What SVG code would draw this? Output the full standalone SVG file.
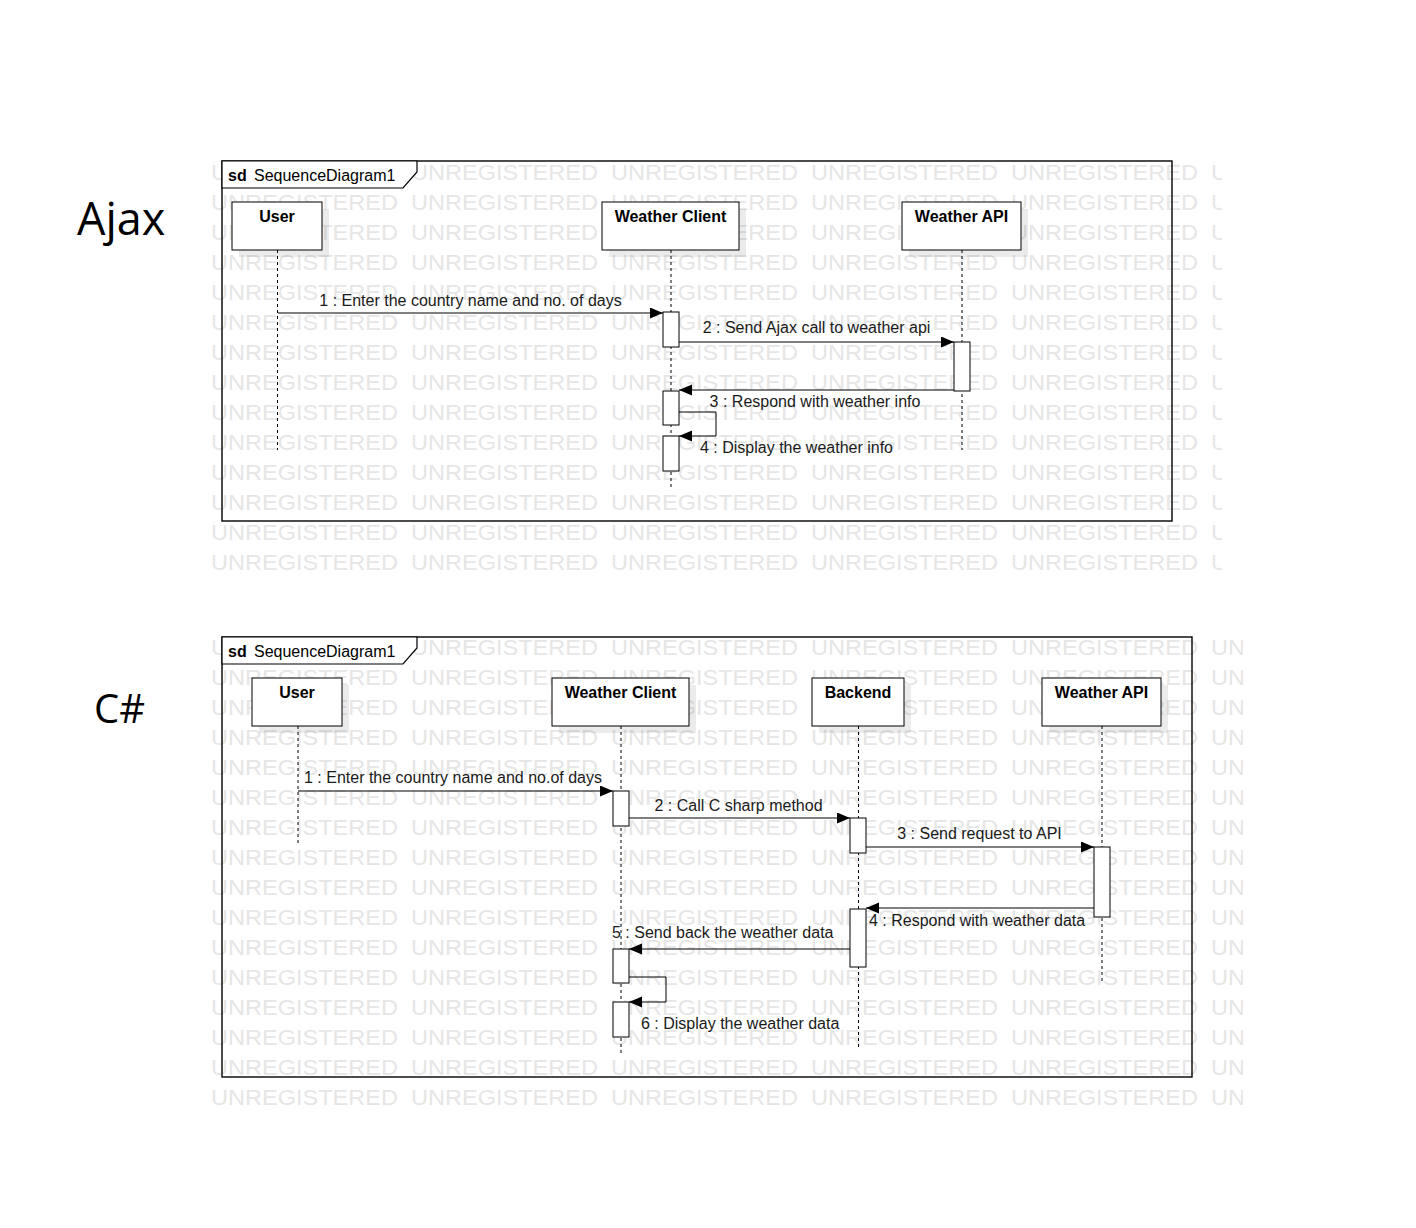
<svg xmlns="http://www.w3.org/2000/svg" xmlns:xlink="http://www.w3.org/1999/xlink" width="1416" height="1228" viewBox="0 0 1416 1228">
<style>
.wm{font-family:"Liberation Sans",Arial,sans-serif;font-size:22.5px;fill:#e6e6e6}
.frame{fill:none;stroke:#000;stroke-width:1.4}
.tab{fill:#fff;stroke:#000;stroke-width:1.2}
.node{fill:#fff;stroke:#000;stroke-width:1}
.shadow{fill:#000;fill-opacity:0.08}
.act{fill:#fff;stroke:#000;stroke-width:1}
.life{fill:none;stroke:#000;stroke-width:1;stroke-dasharray:3 3}
.msg{fill:none;stroke:#000;stroke-width:1;marker-end:url(#arr)}
.nl{font-family:"Liberation Sans",Arial,sans-serif;font-size:16px;font-weight:bold;fill:#000;text-anchor:middle}
.lbl{font-family:"Liberation Sans",Arial,sans-serif;font-size:16px;fill:#1a1a1a}
.mid{text-anchor:middle}
.hd{font-family:"Liberation Sans",Arial,sans-serif;font-size:16px;fill:#000}
.big{font-family:"Open Sans","Noto Sans",sans-serif;fill:#000}
</style>
<defs>
<marker id="arr" markerUnits="userSpaceOnUse" markerWidth="14" markerHeight="12" refX="13" refY="5.5" orient="auto">
<path d="M0,0 L13,5.5 L0,11 Z" fill="#000"/>
</marker>
<clipPath id="clipTop"><rect x="200" y="150" width="1022" height="440"/></clipPath>
<clipPath id="clipBot"><rect x="200" y="630" width="1043" height="490"/></clipPath>
<g id="wmrow">
<text class="wm" x="211" y="0" textLength="187" lengthAdjust="spacingAndGlyphs">UNREGISTERED</text>
<text class="wm" x="411" y="0" textLength="187" lengthAdjust="spacingAndGlyphs">UNREGISTERED</text>
<text class="wm" x="611" y="0" textLength="187" lengthAdjust="spacingAndGlyphs">UNREGISTERED</text>
<text class="wm" x="811" y="0" textLength="187" lengthAdjust="spacingAndGlyphs">UNREGISTERED</text>
<text class="wm" x="1011" y="0" textLength="187" lengthAdjust="spacingAndGlyphs">UNREGISTERED</text>
<text class="wm" x="1211" y="0" textLength="187" lengthAdjust="spacingAndGlyphs">UNREGISTERED</text>
</g>
</defs>
<rect x="0" y="0" width="1416" height="1228" fill="#fff"/>

<g id="watermark-top" clip-path="url(#clipTop)">
<use xlink:href="#wmrow" y="180"/><use xlink:href="#wmrow" y="210"/><use xlink:href="#wmrow" y="240"/><use xlink:href="#wmrow" y="270"/>
<use xlink:href="#wmrow" y="300"/><use xlink:href="#wmrow" y="330"/><use xlink:href="#wmrow" y="360"/><use xlink:href="#wmrow" y="390"/>
<use xlink:href="#wmrow" y="420"/><use xlink:href="#wmrow" y="450"/><use xlink:href="#wmrow" y="480"/><use xlink:href="#wmrow" y="510"/>
<use xlink:href="#wmrow" y="540"/><use xlink:href="#wmrow" y="570"/>
</g>
<g id="watermark-bottom" clip-path="url(#clipBot)">
<use xlink:href="#wmrow" y="655"/><use xlink:href="#wmrow" y="685"/><use xlink:href="#wmrow" y="715"/><use xlink:href="#wmrow" y="745"/>
<use xlink:href="#wmrow" y="775"/><use xlink:href="#wmrow" y="805"/><use xlink:href="#wmrow" y="835"/><use xlink:href="#wmrow" y="865"/>
<use xlink:href="#wmrow" y="895"/><use xlink:href="#wmrow" y="925"/><use xlink:href="#wmrow" y="955"/><use xlink:href="#wmrow" y="985"/>
<use xlink:href="#wmrow" y="1015"/><use xlink:href="#wmrow" y="1045"/><use xlink:href="#wmrow" y="1075"/><use xlink:href="#wmrow" y="1105"/>
</g>

<text class="big" x="77" y="235" font-size="45">Ajax</text>
<text class="big" x="94" y="723" font-size="40">C#</text>

<!-- Top diagram -->
<g id="frame-top">
<rect class="frame" x="222" y="161" width="950" height="360"/>
<path class="tab" d="M222,161 H417 V172 L403,188 H222 Z"/>
<text class="hd" x="228" y="181"><tspan font-weight="bold">sd</tspan><tspan x="254">SequenceDiagram1</tspan></text>
</g>

<g id="top-user">
<rect class="shadow" x="239" y="209" width="90" height="48"/>
<rect class="node" x="232" y="202" width="90" height="48"/>
<text class="nl" x="277" y="222">User</text>
<line class="life" x1="277.5" y1="250" x2="277.5" y2="450"/>
</g>
<g id="top-client">
<rect class="shadow" x="609" y="209" width="137" height="48"/>
<rect class="node" x="602" y="202" width="137" height="48"/>
<text class="nl" x="670.5" y="222">Weather Client</text>
<line class="life" x1="671" y1="250" x2="671" y2="487"/>
<rect class="act" x="663" y="312" width="16" height="35"/>
<rect class="act" x="663" y="391" width="16" height="34"/>
<rect class="act" x="663" y="436" width="16" height="35"/>
</g>
<g id="top-api">
<rect class="shadow" x="909" y="209" width="119" height="48"/>
<rect class="node" x="902" y="202" width="119" height="48"/>
<text class="nl" x="961.5" y="222">Weather API</text>
<line class="life" x1="962" y1="250" x2="962" y2="450"/>
<rect class="act" x="954" y="342" width="16" height="49"/>
</g>

<g id="top-connectors">
<path class="msg" d="M278,313 H663"/>
<path class="msg" d="M679,342 H954"/>
<path class="msg" d="M954,390 H679"/>
<path class="msg" d="M679,412 H716 V436 H679"/>
<text class="lbl mid" x="470.5" y="306">1 : Enter the country name and no. of days</text>
<text class="lbl mid" x="816.5" y="333">2 : Send Ajax call to weather api</text>
<text class="lbl mid" x="815" y="407">3 : Respond with weather info</text>
<text class="lbl" x="700" y="453">4 : Display the weather info</text>
</g>

<!-- Bottom diagram -->
<g id="frame-bottom">
<rect class="frame" x="222" y="637" width="970" height="440"/>
<path class="tab" d="M222,637 H417 V648 L403,664 H222 Z"/>
<text class="hd" x="228" y="657"><tspan font-weight="bold">sd</tspan><tspan x="254">SequenceDiagram1</tspan></text>
</g>

<g id="bot-user">
<rect class="shadow" x="259" y="685" width="90" height="48"/>
<rect class="node" x="252" y="678" width="90" height="48"/>
<text class="nl" x="297" y="698">User</text>
<line class="life" x1="298" y1="726" x2="298" y2="843"/>
</g>
<g id="bot-client">
<rect class="shadow" x="559" y="685" width="137" height="48"/>
<rect class="node" x="552" y="678" width="137" height="48"/>
<text class="nl" x="620.5" y="698">Weather Client</text>
<line class="life" x1="621" y1="726" x2="621" y2="1053"/>
<rect class="act" x="613" y="791" width="16" height="35"/>
<rect class="act" x="613" y="949" width="16" height="34"/>
<rect class="act" x="613" y="1002" width="16" height="35"/>
</g>
<g id="bot-backend">
<rect class="shadow" x="819" y="685" width="92" height="48"/>
<rect class="node" x="812" y="678" width="92" height="48"/>
<text class="nl" x="858" y="698">Backend</text>
<line class="life" x1="858.5" y1="726" x2="858.5" y2="1047"/>
<rect class="act" x="850" y="818" width="16" height="35"/>
<rect class="act" x="850" y="909" width="16" height="58"/>
</g>
<g id="bot-api">
<rect class="shadow" x="1049" y="685" width="119" height="48"/>
<rect class="node" x="1042" y="678" width="119" height="48"/>
<text class="nl" x="1101.5" y="698">Weather API</text>
<line class="life" x1="1102" y1="726" x2="1102" y2="984"/>
<rect class="act" x="1094" y="847" width="16" height="70"/>
</g>

<g id="bottom-connectors">
<path class="msg" d="M298,791 H613"/>
<path class="msg" d="M629,818 H850"/>
<path class="msg" d="M866,847 H1094"/>
<path class="msg" d="M1094,908 H866"/>
<path class="msg" d="M850,949 H629"/>
<path class="msg" d="M629,977 H666 V1002 H629"/>
<text class="lbl" x="304" y="783">1 : Enter the country name and no.of days</text>
<text class="lbl mid" x="738.5" y="811">2 : Call C sharp method</text>
<text class="lbl mid" x="979.5" y="839">3 : Send request to API</text>
<text class="lbl" x="869" y="926">4 : Respond with weather data</text>
<text class="lbl" x="612" y="938">5 : Send back the weather data</text>
<text class="lbl" x="641" y="1029">6 : Display the weather data</text>
</g>
</svg>
